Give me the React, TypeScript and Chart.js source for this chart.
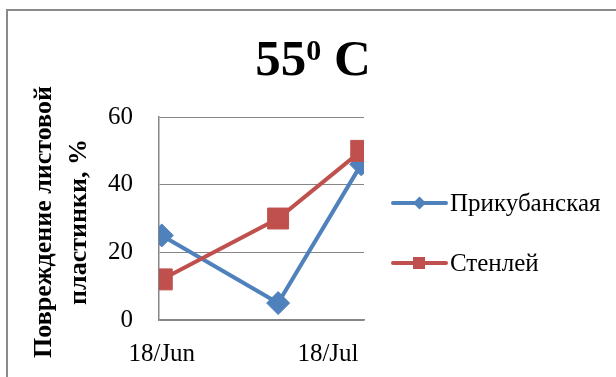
import React, { useEffect, useRef } from "react";
import { Chart, registerables } from "chart.js";

Chart.register(...registerables);

// Observation dates and leaf-blade damage (%) for the two cultivars at 55 °C
const dates = ["2018-06-01", "2018-06-22", "2018-07-07"];
const prikubanskaya = [25, 5, 46];
const stenley = [12, 30, 50];
const monthTicks = ["2018-06-01", "2018-07-01"];
const seriesNames = ["Прикубанская", "Стенлей"];
const yTitleLines = ["Повреждение листовой", "пластинки, %"];
const monthNames = ["Jan", "Feb", "Mar", "Apr", "May", "Jun", "Jul", "Aug", "Sep", "Oct", "Nov", "Dec"];

const DAY = 86400000;
const origin = Date.parse(dates[0]);
const toDay = (s: string) => Math.round((Date.parse(s) - origin) / DAY);
const fmtDay = (d: number) => {
  const dt = new Date(origin + d * DAY);
  const yy = String(dt.getUTCFullYear() % 100).padStart(2, "0");
  return `${yy}/${monthNames[dt.getUTCMonth()]}`;
};

const SERIF = '"Liberation Serif", "Times New Roman", serif';
const BLUE = "#4F81BD";
const RED = "#C0504D";
const GRID = "#868686";

const decorations = {
  id: "decorations",
  beforeDraw(chart: any) {
    const ctx = chart.ctx;
    ctx.save();
    ctx.fillStyle = "#ffffff";
    ctx.fillRect(0, 0, chart.width, chart.height);
    ctx.strokeStyle = "#8a8a8a";
    ctx.lineWidth = 2;
    ctx.strokeRect(7, 10, chart.width + 40, chart.height + 40);
    ctx.restore();
  },
  afterDraw(chart: any) {
    const ctx = chart.ctx;
    ctx.save();
    ctx.fillStyle = "#000000";
    // chart title: 55 with superscript 0, then C
    ctx.textBaseline = "alphabetic";
    ctx.textAlign = "left";
    const big = `bold 51px ${SERIF}`;
    const small = `bold 30px ${SERIF}`;
    ctx.font = big;
    const w1 = ctx.measureText("55").width;
    const w3 = ctx.measureText(" C").width;
    ctx.font = small;
    const w2 = ctx.measureText("0").width;
    let x = 313 - (w1 + w2 + w3) / 2;
    const base = 75;
    ctx.font = big;
    ctx.fillText("55", x, base);
    x += w1;
    ctx.font = small;
    ctx.fillText("0", x, base - 15);
    x += w2;
    ctx.font = big;
    ctx.fillText(" C", x, base);

    // y axis title, rotated
    ctx.save();
    ctx.translate(0, 222);
    ctx.rotate(-Math.PI / 2);
    ctx.font = `bold 26px ${SERIF}`;
    ctx.textAlign = "center";
    ctx.textBaseline = "middle";
    ctx.fillText(yTitleLines[0], 0, 44);
    ctx.fillText(yTitleLines[1], 0, 79);
    ctx.restore();

    // legend
    const items = [
      { color: BLUE, style: "diamond", y: 203 },
      { color: RED, style: "square", y: 263 },
    ];
    items.forEach((it, i) => {
      ctx.strokeStyle = it.color;
      ctx.fillStyle = it.color;
      ctx.lineWidth = 4;
      ctx.lineCap = "round";
      ctx.beginPath();
      ctx.moveTo(393, it.y);
      ctx.lineTo(446, it.y);
      ctx.stroke();
      if (it.style === "diamond") {
        ctx.beginPath();
        ctx.moveTo(419.5, it.y - 6.5);
        ctx.lineTo(426, it.y);
        ctx.lineTo(419.5, it.y + 6.5);
        ctx.lineTo(413, it.y);
        ctx.closePath();
        ctx.fill();
      } else {
        ctx.fillRect(413, it.y - 6, 12, 12);
      }
      ctx.fillStyle = "#000000";
      ctx.font = `25px ${SERIF}`;
      ctx.textAlign = "left";
      ctx.textBaseline = "middle";
      ctx.fillText(seriesNames[i], 450, it.y + 1);
    });
    ctx.restore();
  },
};

export default function App() {
  const ref = useRef<HTMLCanvasElement>(null);

  useEffect(() => {
    if (!ref.current) return;
    const xs = dates.map(toDay);
    const chart = new Chart(ref.current, {
      type: "line",
      data: {
        datasets: [
          {
            label: seriesNames[0],
            data: xs.map((x, i) => ({ x, y: prikubanskaya[i] })),
            borderColor: BLUE,
            backgroundColor: BLUE,
            borderWidth: 4,
            pointStyle: "rectRot",
            pointRadius: 11.5,
            pointBorderWidth: 1,
            pointBorderColor: BLUE,
            pointBackgroundColor: BLUE,
            order: 1,
          },
          {
            label: seriesNames[1],
            data: xs.map((x, i) => ({ x, y: stenley[i] })),
            borderColor: RED,
            backgroundColor: RED,
            borderWidth: 4,
            pointStyle: "rect",
            pointRadius: 14.8,
            pointBorderWidth: 1,
            pointBorderColor: RED,
            pointBackgroundColor: RED,
            order: 0,
          },
        ],
      },
      options: {
        animation: false,
        responsive: false,
        devicePixelRatio: 1,
        layout: { padding: { top: 117, right: 252, left: 0, bottom: 0 } },
        plugins: {
          legend: { display: false },
          title: { display: false },
          tooltip: { enabled: false },
        },
        scales: {
          x: {
            type: "linear",
            min: -0.5,
            max: toDay(dates[dates.length - 1]) + 0.5,
            afterBuildTicks: (scale: any) => {
              scale.ticks = monthTicks.map((m) => ({ value: toDay(m) }));
            },
            afterFit: (scale: any) => {
              scale.height = 57;
            },
            grid: { display: false, drawTicks: false },
            border: { display: true, color: GRID, width: 1.5 },
            ticks: {
              autoSkip: false,
              maxRotation: 0,
              padding: 19,
              color: "#000000",
              font: { family: SERIF, size: 25 },
              callback: (v: any) => fmtDay(Number(v)),
            },
          },
          y: {
            min: 0,
            max: 60,
            afterFit: (scale: any) => {
              scale.width = 159;
            },
            grid: { color: GRID, lineWidth: 1, drawTicks: false },
            border: { display: true, color: GRID, width: 1.5 },
            ticks: {
              stepSize: 20,
              padding: 26,
              color: "#000000",
              font: { family: SERIF, size: 25 },
            },
          },
        },
      },
      plugins: [decorations],
    });
    return () => chart.destroy();
  }, []);

  return (
    <div style={{ position: "fixed", left: 0, top: 0, width: 616, height: 377 }}>
      <canvas ref={ref} width={616} height={377} style={{ display: "block" }} />
    </div>
  );
}
